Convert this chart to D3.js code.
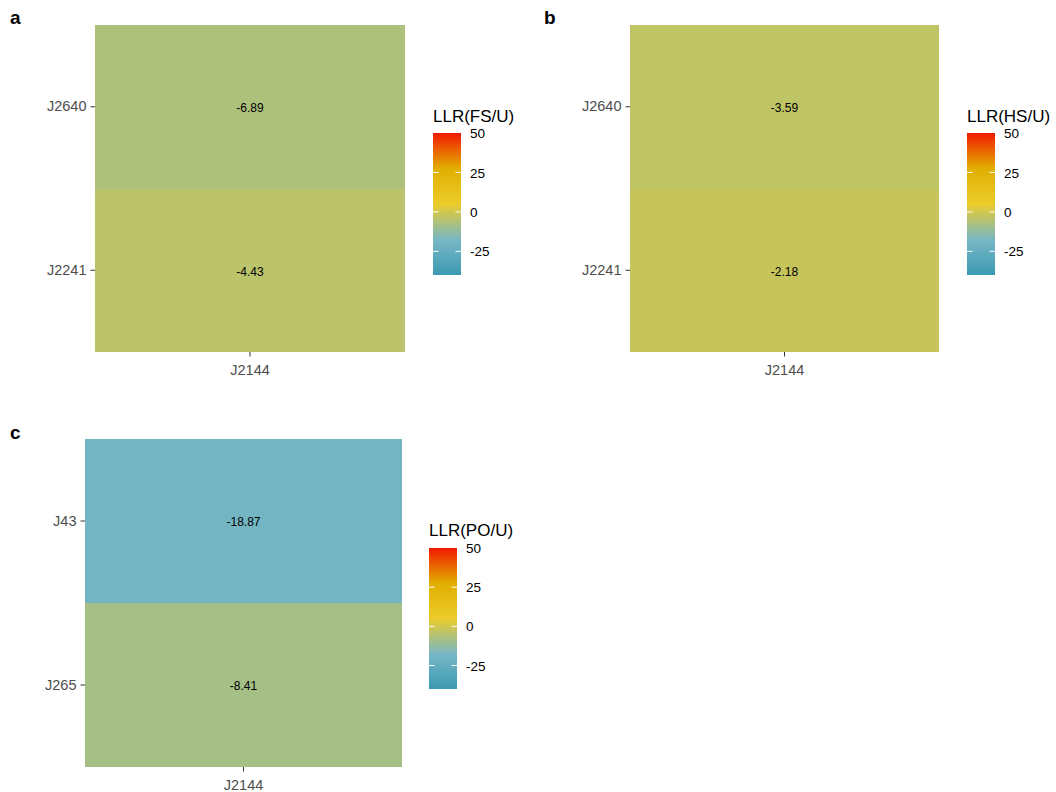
<!DOCTYPE html>
<html>
<head>
<meta charset="utf-8">
<script src="https://cdn.jsdelivr.net/npm/d3@7"></script>
<style>
  html, body { margin: 0; padding: 0; background: #ffffff; }
  svg { display: block; font-family: Arial, "Liberation Sans", sans-serif; }
</style>
</head>
<body>
<svg id="chart" width="1056" height="792"></svg>
<script>
// ---- data ----
const panelTags = ["a", "b", "c"];
const legendTitles = ["LLR(FS/U)", "LLR(HS/U)", "LLR(PO/U)"];
const xCategories = ["J2144"];

const rowsA = ["J2241", "J2640"];
const valuesA = [-4.43, -6.89];

const rowsB = ["J2241", "J2640"];
const valuesB = [-2.18, -3.59];

const rowsC = ["J265", "J43"];
const valuesC = [-8.41, -18.87];

const fillDomain = [-40, 50];
const colorStops = ["#3B9AB2", "#78B7C5", "#EBCC2A", "#E1AF00", "#F21A00"];
const legendTicks = [-25, 0, 25, 50];

// ---- layout ----
const panels = [
  { tag: panelTags[0], title: legendTitles[0], rows: rowsA, values: valuesA,
    plot: { x0: 95, x1: 405, y0: 25, y1: 352 }, tagPos: [10, 24],
    legend: { x: 433, titleY: 122, y0: 133, y1: 275 } },
  { tag: panelTags[1], title: legendTitles[1], rows: rowsB, values: valuesB,
    plot: { x0: 630, x1: 939, y0: 25, y1: 352 }, tagPos: [544, 24],
    legend: { x: 967, titleY: 122, y0: 133, y1: 275 } },
  { tag: panelTags[2], title: legendTitles[2], rows: rowsC, values: valuesC,
    plot: { x0: 85, x1: 402, y0: 439, y1: 767 }, tagPos: [10, 439],
    legend: { x: 429, titleY: 536, y0: 548, y1: 689 } }
];

const stopDomain = colorStops.map((_, i) => fillDomain[0] + i * (fillDomain[1] - fillDomain[0]) / (colorStops.length - 1));
const fill = d3.scaleLinear().domain(stopDomain).range(colorStops).interpolate(d3.interpolateRgb).clamp(true);

const svg = d3.select("#chart");
const defs = svg.append("defs");
const axisGrey = "#4D4D4D";
const tickGrey = "#333333";

panels.forEach((p, pi) => {
  const g = svg.append("g");

  const x = d3.scaleBand().domain(xCategories).range([p.plot.x0, p.plot.x1]).padding(0);
  // first row drawn at the bottom
  const y = d3.scaleBand().domain(p.rows).range([p.plot.y1, p.plot.y0]).padding(0);

  const cells = p.rows.map((r, i) => ({ row: r, col: xCategories[0], value: p.values[i] }));

  g.selectAll("rect.cell").data(cells).join("rect")
    .attr("class", "cell")
    .attr("x", d => x(d.col))
    .attr("y", d => y(d.row))
    .attr("width", x.bandwidth())
    .attr("height", y.bandwidth())
    .attr("shape-rendering", "crispEdges")
    .attr("fill", d => fill(d.value));

  g.selectAll("text.val").data(cells).join("text")
    .attr("class", "val")
    .attr("x", d => x(d.col) + x.bandwidth() / 2)
    .attr("y", d => y(d.row) + y.bandwidth() / 2)
    .attr("dy", "0.45em")
    .attr("text-anchor", "middle")
    .attr("font-size", 12)
    .attr("fill", "#000")
    .text(d => d.value.toFixed(2));

  // axes
  const yAxis = g.append("g")
    .attr("transform", `translate(${p.plot.x0},0)`)
    .call(d3.axisLeft(y).tickSize(4.5).tickPadding(4));
  const xAxis = g.append("g")
    .attr("transform", `translate(0,${p.plot.y1})`)
    .call(d3.axisBottom(x).tickSize(4.5).tickPadding(8));
  [yAxis, xAxis].forEach(a => {
    a.select(".domain").remove();
    a.selectAll(".tick line").attr("stroke", tickGrey).attr("stroke-width", 1);
    a.selectAll(".tick text").attr("fill", axisGrey).attr("font-size", 14.5)
      .attr("font-family", "Arial, 'Liberation Sans', sans-serif");
  });

  // panel tag
  svg.append("text")
    .attr("x", p.tagPos[0]).attr("y", p.tagPos[1])
    .attr("font-size", 19).attr("font-weight", "bold").attr("fill", "#000")
    .text(p.tag);

  // colour bar legend
  const L = p.legend;
  const barW = 28;
  const ly = d3.scaleLinear().domain(fillDomain).range([L.y1, L.y0]);
  const gradId = "grad" + pi;
  const grad = defs.append("linearGradient").attr("id", gradId)
    .attr("x1", 0).attr("y1", 1).attr("x2", 0).attr("y2", 0);
  d3.range(0, 1.0001, 0.02).forEach(t => {
    const v = fillDomain[0] + t * (fillDomain[1] - fillDomain[0]);
    grad.append("stop").attr("offset", t).attr("stop-color", fill(v));
  });

  const lg = svg.append("g");
  lg.append("text")
    .attr("x", L.x).attr("y", L.titleY)
    .attr("font-size", 17).attr("fill", "#000")
    .text(p.title);
  lg.append("rect")
    .attr("x", L.x).attr("y", L.y0)
    .attr("width", barW).attr("height", L.y1 - L.y0)
    .attr("shape-rendering", "crispEdges")
    .attr("fill", `url(#${gradId})`);
  // white tick marks inside the bar (the top one sits on the edge and is not shown)
  const inner = legendTicks.filter(d => ly(d) > L.y0 + 1);
  const tk = lg.selectAll("g.lt").data(inner).join("g").attr("class", "lt");
  tk.append("line")
    .attr("x1", L.x).attr("x2", L.x + 5.5)
    .attr("y1", d => ly(d)).attr("y2", d => ly(d))
    .attr("stroke", "#fff").attr("stroke-width", 1);
  tk.append("line")
    .attr("x1", L.x + barW - 5.5).attr("x2", L.x + barW)
    .attr("y1", d => ly(d)).attr("y2", d => ly(d))
    .attr("stroke", "#fff").attr("stroke-width", 1);
  lg.selectAll("text.ll").data(legendTicks).join("text")
    .attr("class", "ll")
    .attr("x", L.x + barW + 9)
    .attr("y", d => ly(d))
    .attr("dy", "0.38em")
    .attr("font-size", 13.5).attr("fill", "#000")
    .text(d => d);
});
</script>
</body>
</html>
